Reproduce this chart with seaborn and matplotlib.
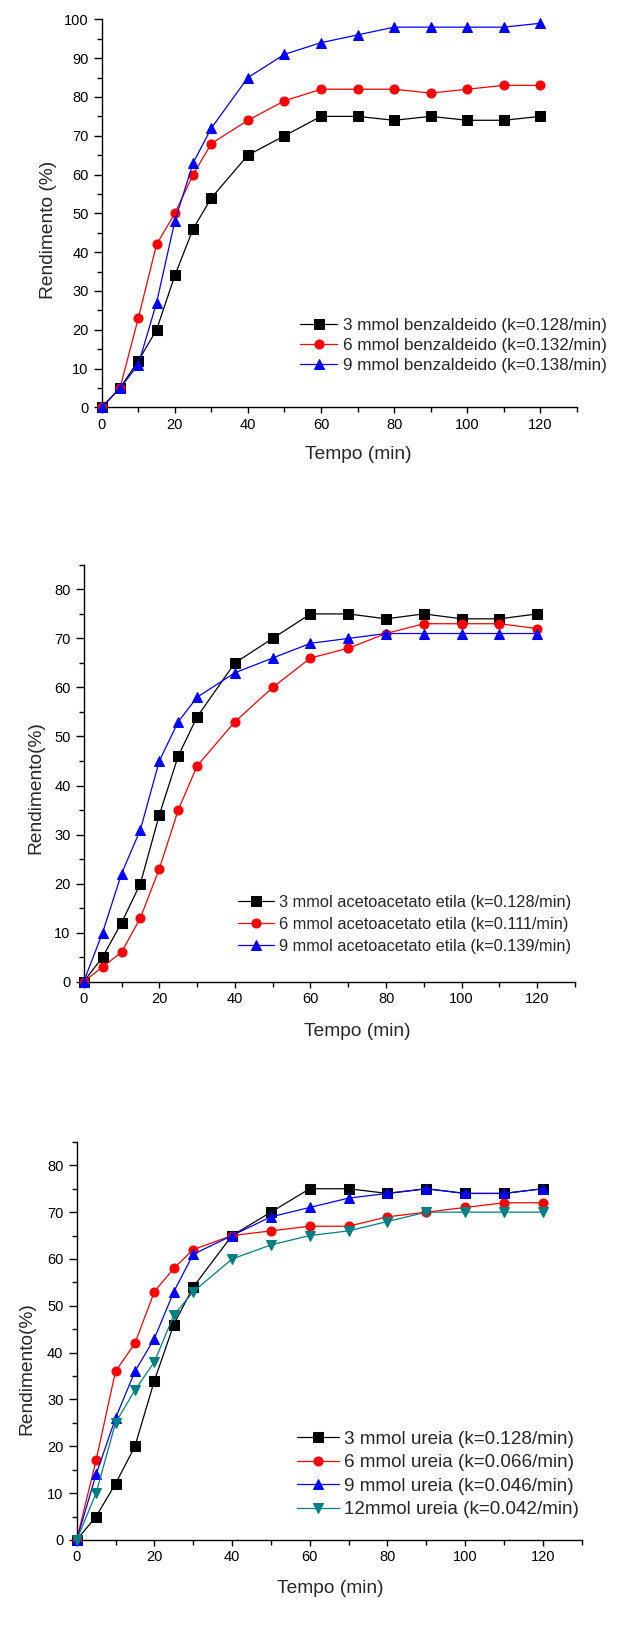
import matplotlib
matplotlib.use("Agg")
import matplotlib.pyplot as plt
import matplotlib.ticker as mticker
import seaborn as sns
import pandas as pd

sns.set_style("ticks")
plt.rcParams.update({
    "font.family": ["Liberation Sans", "DejaVu Sans"],
    "axes.linewidth": 1.0,
    "axes.edgecolor": "black",
    "xtick.color": "black",
    "ytick.color": "black",
})

tempo = [0, 5, 10, 15, 20, 25, 30, 40, 50, 60, 70, 80, 90, 100, 110, 120]

# painel 1 - benzaldeido
benz_3 = [0, 5, 12, 20, 34, 46, 54, 65, 70, 75, 75, 74, 75, 74, 74, 75]
benz_6 = [0, 5, 23, 42, 50, 60, 68, 74, 79, 82, 82, 82, 81, 82, 83, 83]
benz_9 = [0, 5, 11, 27, 48, 63, 72, 85, 91, 94, 96, 98, 98, 98, 98, 99]
benz_labels = ["3 mmol benzaldeido (k=0.128/min)",
               "6 mmol benzaldeido (k=0.132/min)",
               "9 mmol benzaldeido (k=0.138/min)"]

# painel 2 - acetoacetato de etila
acet_3 = [0, 5, 12, 20, 34, 46, 54, 65, 70, 75, 75, 74, 75, 74, 74, 75]
acet_6 = [0, 3, 6, 13, 23, 35, 44, 53, 60, 66, 68, 71, 73, 73, 73, 72]
acet_9 = [0, 10, 22, 31, 45, 53, 58, 63, 66, 69, 70, 71, 71, 71, 71, 71]
acet_labels = ["3 mmol acetoacetato etila (k=0.128/min)",
               "6 mmol acetoacetato etila (k=0.111/min)",
               "9 mmol acetoacetato etila (k=0.139/min)"]

# painel 3 - ureia
ure_3 = [0, 5, 12, 20, 34, 46, 54, 65, 70, 75, 75, 74, 75, 74, 74, 75]
ure_6 = [0, 17, 36, 42, 53, 58, 62, 65, 66, 67, 67, 69, 70, 71, 72, 72]
ure_9 = [0, 14, 26, 36, 43, 53, 61, 65, 69, 71, 73, 74, 75, 74, 74, 75]
ure_12 = [0, 10, 25, 32, 38, 48, 53, 60, 63, 65, 66, 68, 70, 70, 70, 70]
ure_labels = ["3 mmol ureia (k=0.128/min)",
              "6 mmol ureia (k=0.066/min)",
              "9 mmol ureia (k=0.046/min)",
              "12mmol ureia (k=0.042/min)"]

CORES = ["black", "#FF0000", "#0000FF", "#008080"]
MARCADORES = ["s", "o", "^", "v"]

fig = plt.figure(figsize=(6.4, 16.44), dpi=100)


def painel(rect, series, labels, ylim, ymax_tick, ylabel, leg_anchor, leg_fs,
           leg_sp, ylab_xy, xlab_xy, ms=6.5):
    ax = fig.add_axes(rect)
    for i, (vals, lab) in enumerate(zip(series, labels)):
        df = pd.DataFrame({"t": tempo, "y": vals})
        sns.lineplot(data=df, x="t", y="y", ax=ax, color=CORES[i],
                     marker=MARCADORES[i], markersize=ms, markeredgecolor=CORES[i],
                     linewidth=0.9, label=lab, clip_on=False, zorder=3 + i)
    ax.set_xlim(0, 130)
    ax.set_ylim(*ylim)
    ax.set_xticks(range(0, 121, 20))
    ax.set_yticks(range(0, ymax_tick + 1, 10))
    ax.xaxis.set_minor_locator(mticker.MultipleLocator(10))
    ax.yaxis.set_minor_locator(mticker.MultipleLocator(5))
    ax.tick_params(axis="both", which="major", labelsize=10.5, width=1.0)
    ax.tick_params(axis="y", which="major", length=6)
    ax.tick_params(axis="y", which="minor", length=3.5, width=1.0)
    ax.tick_params(axis="x", which="major", length=4)
    ax.tick_params(axis="x", which="minor", length=3.5, width=1.0)
    sns.despine(ax=ax)
    ax.set_xlabel("Tempo (min)", fontsize=13.8)
    ax.set_ylabel(ylabel, fontsize=13.8)
    ax.xaxis.set_label_coords(*xlab_xy)
    ax.yaxis.set_label_coords(*ylab_xy)
    ax.legend(loc="center left", bbox_to_anchor=leg_anchor, frameon=False,
              fontsize=leg_fs, handlelength=2.2, handletextpad=0.3,
              labelspacing=leg_sp, borderpad=0, borderaxespad=0)
    return ax


painel([0.159, 0.7522, 0.7422, 0.236], [benz_3, benz_6, benz_9], benz_labels,
       (0, 100), 100, "Rendimento (%)", (0.417, 0.16), 12.3, 0.28,
       (-0.095, 0.457), (0.541, -0.1))

painel([0.1308, 0.4029, 0.7677, 0.2535], [acet_3, acet_6, acet_9], acet_labels,
       (0, 85), 80, "Rendimento(%)", (0.3147, 0.138), 11.8, 0.42,
       (-0.08, 0.465), (0.556, -0.1))

painel([0.1198, 0.0633, 0.789, 0.2421], [ure_3, ure_6, ure_9, ure_12], ure_labels,
       (0, 85), 80, "Rendimento(%)", (0.4368, 0.1646), 13.6, 0.33,
       (-0.082, 0.43), (0.5016, -0.1))

plt.savefig("out.png", dpi=100)
plt.close()
